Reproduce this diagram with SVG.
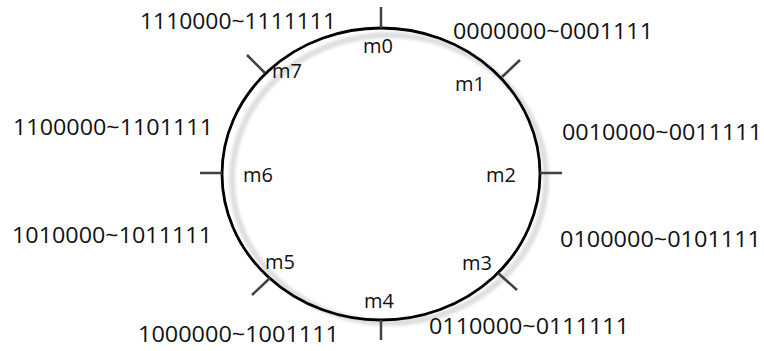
<svg xmlns="http://www.w3.org/2000/svg" width="764" height="351" viewBox="0 0 764 351">
<defs>
<style>
.rng{font-family:"Open Sans","Liberation Sans",sans-serif;font-size:22px;fill:#111}
.lbl{font-family:"Open Sans","Liberation Sans",sans-serif;font-size:20px;fill:#111}
.tick{stroke:#404040;stroke-width:2.5;fill:none}
</style>
<filter id="blur" x="-10%" y="-10%" width="120%" height="120%"><feGaussianBlur stdDeviation="1.5"/></filter>
</defs>
<g id="ring">
<ellipse cx="389" cy="179" rx="157" ry="144" fill="none" stroke="#dedede" stroke-width="6" filter="url(#blur)"/>
<ellipse cx="381" cy="174" rx="159" ry="146" fill="none" stroke="#000" stroke-width="2.8"/>
</g>
<g id="connectors">
<line class="tick" x1="381" y1="7" x2="381" y2="28"/>
<line class="tick" x1="520" y1="60" x2="502" y2="77"/>
<line class="tick" x1="540" y1="173" x2="562" y2="173"/>
<line class="tick" x1="498" y1="273" x2="517" y2="290"/>
<line class="tick" x1="381" y1="320" x2="381" y2="340"/>
<line class="tick" x1="270" y1="278" x2="252" y2="295"/>
<line class="tick" x1="200" y1="173" x2="222" y2="173"/>
<line class="tick" x1="247" y1="55" x2="265" y2="73"/>
</g>
<g id="m0"><text class="lbl" x="363" y="53">m0</text><text class="rng" x="453" y="39" textLength="200" lengthAdjust="spacingAndGlyphs">0000000~0001111</text></g>
<g id="m1"><text class="lbl" x="455" y="91">m1</text><text class="rng" x="562" y="140" textLength="200" lengthAdjust="spacingAndGlyphs">0010000~0011111</text></g>
<g id="m2"><text class="lbl" x="486" y="182">m2</text><text class="rng" x="560" y="247" textLength="201" lengthAdjust="spacingAndGlyphs">0100000~0101111</text></g>
<g id="m3"><text class="lbl" x="462" y="270">m3</text><text class="rng" x="429" y="334" textLength="200" lengthAdjust="spacingAndGlyphs">0110000~0111111</text></g>
<g id="m4"><text class="lbl" x="364" y="308">m4</text><text class="rng" x="138" y="342" textLength="201" lengthAdjust="spacingAndGlyphs">1000000~1001111</text></g>
<g id="m5"><text class="lbl" x="265" y="269">m5</text><text class="rng" x="12" y="243" textLength="200" lengthAdjust="spacingAndGlyphs">1010000~1011111</text></g>
<g id="m6"><text class="lbl" x="243" y="182">m6</text><text class="rng" x="13" y="135" textLength="200" lengthAdjust="spacingAndGlyphs">1100000~1101111</text></g>
<g id="m7"><text class="lbl" x="272" y="78">m7</text><text class="rng" x="140" y="29" textLength="196" lengthAdjust="spacingAndGlyphs">1110000~1111111</text></g>
</svg>
